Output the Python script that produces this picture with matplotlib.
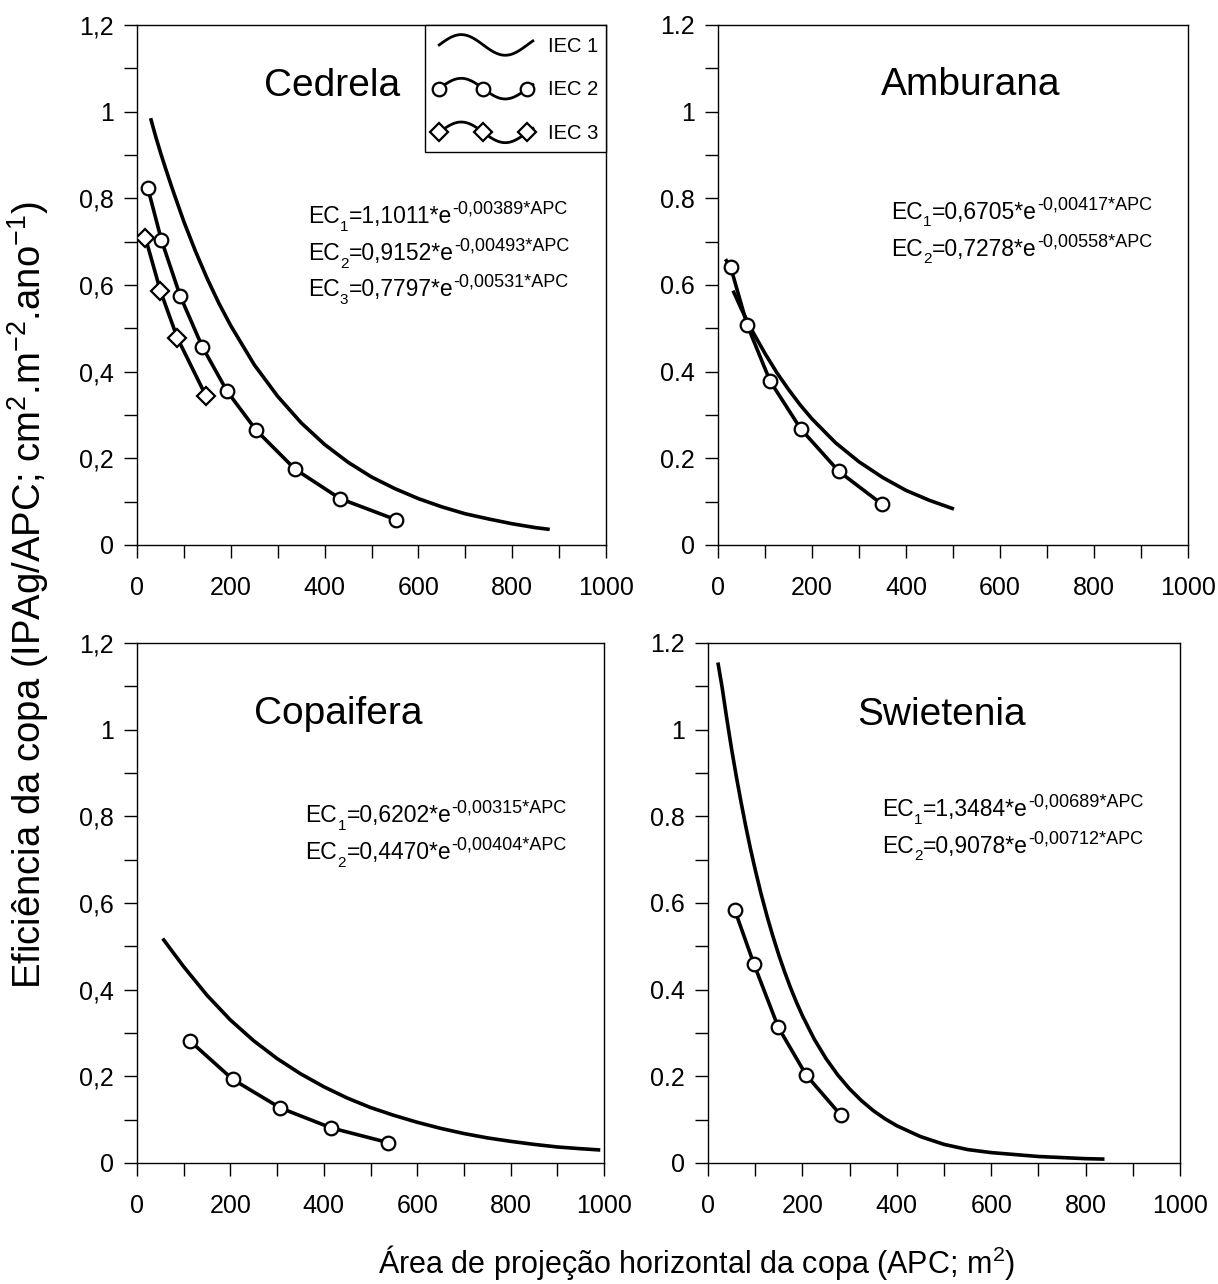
import numpy as np
import matplotlib
matplotlib.use('Agg')
import matplotlib.pyplot as plt
from matplotlib.lines import Line2D
from matplotlib.legend_handler import HandlerBase
from matplotlib.ticker import FixedLocator, FixedFormatter

plt.rcParams['font.family'] = ['Liberation Sans', 'DejaVu Sans']
plt.rcParams['mathtext.fontset'] = 'custom'
plt.rcParams['mathtext.rm'] = 'Liberation Sans'
plt.rcParams['mathtext.it'] = 'Liberation Sans:italic'
plt.rcParams['mathtext.bf'] = 'Liberation Sans:bold'

# ---------------- data ----------------
# Cedrela
ced_iec1_x = [29, 40, 50, 60, 75, 100, 125, 150, 175, 200, 250, 300, 350, 400, 450, 500, 550, 600, 650, 700, 750, 800, 850, 880]
ced_iec1_y = [0.985, 0.942, 0.906, 0.872, 0.823, 0.746, 0.677, 0.614, 0.557, 0.506, 0.416, 0.343, 0.282, 0.232, 0.191, 0.157, 0.130, 0.107, 0.088, 0.072, 0.060, 0.049, 0.040, 0.036]
ced_iec2_x = [23, 52, 92, 139, 192, 254, 337, 433, 553]
ced_iec2_y = [0.824, 0.704, 0.575, 0.458, 0.355, 0.265, 0.175, 0.107, 0.058]
ced_iec3_x = [18, 50, 86, 147]
ced_iec3_y = [0.709, 0.586, 0.478, 0.344]

# Amburana (first IEC 2 point is the start of the line, without marker)
amb_iec1_x = [32, 40, 50, 60, 75, 100, 125, 150, 175, 200, 250, 300, 350, 400, 450, 502]
amb_iec1_y = [0.587, 0.568, 0.544, 0.522, 0.490, 0.442, 0.398, 0.359, 0.323, 0.291, 0.236, 0.192, 0.156, 0.126, 0.103, 0.083]
amb_iec2_x = [18, 27, 62, 111, 176, 257, 348]
amb_iec2_y = [0.656, 0.641, 0.508, 0.378, 0.268, 0.170, 0.095]

# Copaifera
cop_iec1_x = [55, 100, 150, 200, 250, 300, 350, 400, 450, 500, 550, 600, 650, 700, 750, 800, 850, 900, 950, 992]
cop_iec1_y = [0.518, 0.453, 0.387, 0.330, 0.282, 0.241, 0.206, 0.176, 0.150, 0.128, 0.110, 0.094, 0.080, 0.068, 0.058, 0.050, 0.043, 0.037, 0.033, 0.030]
cop_iec2_x = [113, 205, 307, 416, 538]
cop_iec2_y = [0.282, 0.193, 0.127, 0.081, 0.047]

# Swietenia
swi_iec1_x = [21, 30, 40, 50, 60, 70, 80, 90, 100, 112, 125, 137, 150, 162, 175, 187, 200, 225, 250, 275, 300, 325, 350, 375, 400, 450, 500, 550, 600, 700, 800, 840]
swi_iec1_y = [1.155, 1.097, 1.024, 0.955, 0.892, 0.833, 0.777, 0.725, 0.677, 0.623, 0.570, 0.525, 0.480, 0.442, 0.404, 0.372, 0.340, 0.286, 0.241, 0.203, 0.171, 0.144, 0.121, 0.102, 0.086, 0.061, 0.043, 0.031, 0.024, 0.015, 0.010, 0.009]
swi_iec2_x = [57, 97, 149, 208, 281]
swi_iec2_y = [0.583, 0.460, 0.313, 0.203, 0.111]

species = ['Cedrela', 'Amburana', 'Copaifera', 'Swietenia']
legend_labels = ['IEC 1', 'IEC 2', 'IEC 3']

eq_cedrela = [('1', '1,1011', '0,00389'), ('2', '0,9152', '0,00493'), ('3', '0,7797', '0,00531')]
eq_amburana = [('1', '0,6705', '0,00417'), ('2', '0,7278', '0,00558')]
eq_copaifera = [('1', '0,6202', '0,00315'), ('2', '0,4470', '0,00404')]
eq_swietenia = [('1', '1,3484', '0,00689'), ('2', '0,9078', '0,00712')]

x_tick_vals = [0, 200, 400, 600, 800, 1000]
x_tick_labels = ['0', '200', '400', '600', '800', '1000']
y_tick_vals = [0, 0.2, 0.4, 0.6, 0.8, 1.0, 1.2]
y_labels_comma = ['0', '0,2', '0,4', '0,6', '0,8', '1', '1,2']
y_labels_dot = ['0', '0.2', '0.4', '0.6', '0.8', '1', '1.2']
x_minor = [100, 300, 500, 700, 900]
y_minor = [0.1, 0.3, 0.5, 0.7, 0.9, 1.1]

# ---------------- styling ----------------
W, H = 1218, 1284
fig = plt.figure(figsize=(W / 100, H / 100), dpi=100)

LW = 2.6
MS = 9.8
MS_D = 9.0
MEW = 1.6
TICK_FS = 18
EQ_FS = 16.5
SUB_FS = 11
SUP_FS = 13
TITLE_FS = 28


def add_ax(l, r, t, b):
    return fig.add_axes([l / W, 1 - b / H, (r - l) / W, (b - t) / H])


def style_axes(ax, ylabels):
    ax.set_xlim(0, 1000)
    ax.set_ylim(0, 1.2)
    ax.xaxis.set_major_locator(FixedLocator(x_tick_vals))
    ax.xaxis.set_major_formatter(FixedFormatter(x_tick_labels))
    ax.xaxis.set_minor_locator(FixedLocator(x_minor))
    ax.yaxis.set_major_locator(FixedLocator(y_tick_vals))
    ax.yaxis.set_major_formatter(FixedFormatter(ylabels))
    ax.yaxis.set_minor_locator(FixedLocator(y_minor))
    ax.tick_params(which='both', direction='out', length=9.5, width=1.0,
                   top=False, right=False, labelsize=TICK_FS, color='black')
    ax.tick_params(axis='x', which='major', pad=13)
    ax.tick_params(axis='y', which='major', pad=7)
    for sp in ax.spines.values():
        sp.set_linewidth(1.0)
        sp.set_color('black')


def equation(ax, x, y, idx, coef, rate):
    main = ax.text(x, y, 'EC', fontsize=EQ_FS, ha='left', va='baseline')
    sub = ax.annotate(idx, xy=(1, 0), xycoords=main, xytext=(0.3, -3.8),
                      textcoords='offset points', fontsize=SUB_FS,
                      ha='left', va='bottom')
    rest = ax.annotate('=' + coef + '*e', xy=(1, 0), xycoords=(sub, main),
                       xytext=(0.2, 0), textcoords='offset points',
                       fontsize=EQ_FS, ha='left', va='bottom')
    ax.annotate('-' + rate + '*APC', xy=(1, 1), xycoords=(rest, main),
                xytext=(0.4, 3.5), textcoords='offset points',
                fontsize=SUP_FS, ha='left', va='top')


class WaveHandler(HandlerBase):
    def __init__(self, marker=None, ms=MS, **kw):
        super().__init__(**kw)
        self.marker = marker
        self.ms = ms

    def create_artists(self, legend, orig_handle, xdescent, ydescent,
                       width, height, fontsize, trans):
        x0 = -xdescent + 0.07 * width
        w = 0.93 * width
        amp = 0.42 * height
        yc = -ydescent + height / 2
        t = np.linspace(0, 1, 80)
        xs = x0 + t * w
        ys = yc + amp * np.sin(2 * np.pi * t / 0.94)
        line = Line2D(xs, ys, color='black', lw=2.0, transform=trans)
        arts = [line]
        if self.marker is not None:
            tm = np.array([0.0, 0.47, 0.94])
            mk = Line2D(x0 + tm * w, yc + amp * np.sin(2 * np.pi * tm / 0.94),
                        ls='none', marker=self.marker, mfc='white', mec='black',
                        ms=self.ms, mew=MEW, transform=trans)
            arts.append(mk)
        return arts


def curve(ax, x, y, **kw):
    return ax.plot(x, y, color='black', lw=LW, solid_capstyle='butt',
                   solid_joinstyle='round', **kw)[0]


def marked(ax, x, y, marker, ms, markevery=None):
    return ax.plot(x, y, color='black', lw=LW, marker=marker, ms=ms,
                   mfc='white', mec='black', mew=MEW, markevery=markevery,
                   solid_joinstyle='round', zorder=3)[0]


# ---------------- panels ----------------
ax1 = add_ax(137, 606, 25, 545)
ax2 = add_ax(718, 1188, 25, 545)
ax3 = add_ax(137, 604, 643, 1163)
ax4 = add_ax(708, 1180, 643, 1163)

style_axes(ax1, y_labels_comma)
style_axes(ax2, y_labels_dot)
style_axes(ax3, y_labels_comma)
style_axes(ax4, y_labels_dot)

# Cedrela
l1 = curve(ax1, ced_iec1_x, ced_iec1_y)
l2 = marked(ax1, ced_iec2_x, ced_iec2_y, 'o', MS)
l3 = marked(ax1, ced_iec3_x, ced_iec3_y, 'D', MS_D)
ax1.text(416, 1.06, species[0], fontsize=TITLE_FS, ha='center', va='center')
for (i, c, r), yy in zip(eq_cedrela, [0.742, 0.657, 0.574]):
    equation(ax1, 364, yy, i, c, r)
leg = ax1.legend([l1, l2, l3], legend_labels, loc='upper right',
                 bbox_to_anchor=(1.0, 1.0), borderaxespad=0, fontsize=14.5,
                 handlelength=5.0, handleheight=1.5, handletextpad=0.75,
                 labelspacing=0.95, borderpad=0.38, fancybox=False,
                 edgecolor='black', framealpha=1,
                 handler_map={l1: WaveHandler(None), l2: WaveHandler('o'),
                              l3: WaveHandler('D', ms=MS_D)})
leg.get_frame().set_linewidth(1.0)

# Amburana
curve(ax2, amb_iec1_x, amb_iec1_y)
marked(ax2, amb_iec2_x, amb_iec2_y, 'o', MS, markevery=list(range(1, len(amb_iec2_x))))
ax2.text(537, 1.062, species[1], fontsize=TITLE_FS, ha='center', va='center')
for (i, c, r), yy in zip(eq_amburana, [0.752, 0.667]):
    equation(ax2, 368, yy, i, c, r)

# Copaifera
curve(ax3, cop_iec1_x, cop_iec1_y)
marked(ax3, cop_iec2_x, cop_iec2_y, 'o', MS)
ax3.text(430, 1.036, species[2], fontsize=TITLE_FS, ha='center', va='center')
for (i, c, r), yy in zip(eq_copaifera, [0.786, 0.701]):
    equation(ax3, 361, yy, i, c, r)

# Swietenia
curve(ax4, swi_iec1_x, swi_iec1_y)
marked(ax4, swi_iec2_x, swi_iec2_y, 'o', MS)
ax4.text(494, 1.033, species[3], fontsize=TITLE_FS, ha='center', va='center')
for (i, c, r), yy in zip(eq_swietenia, [0.800, 0.715]):
    equation(ax4, 369, yy, i, c, r)

# shared axis labels
fig.text(28 / W, 1 - 595 / H,
         r'Eficiência da copa (IPAg/APC; cm$\mathregular{^{2}}$.m$\mathregular{^{-2}}$.ano$\mathregular{^{-1}}$)',
         rotation=90, ha='center', va='center', fontsize=27.5)
fig.text(697 / W, 1 - 1262 / H,
         r'Área de projeção horizontal da copa (APC; m$\mathregular{^{2}}$)',
         ha='center', va='center', fontsize=22)

fig.savefig('out.png', dpi=100, facecolor='white')
